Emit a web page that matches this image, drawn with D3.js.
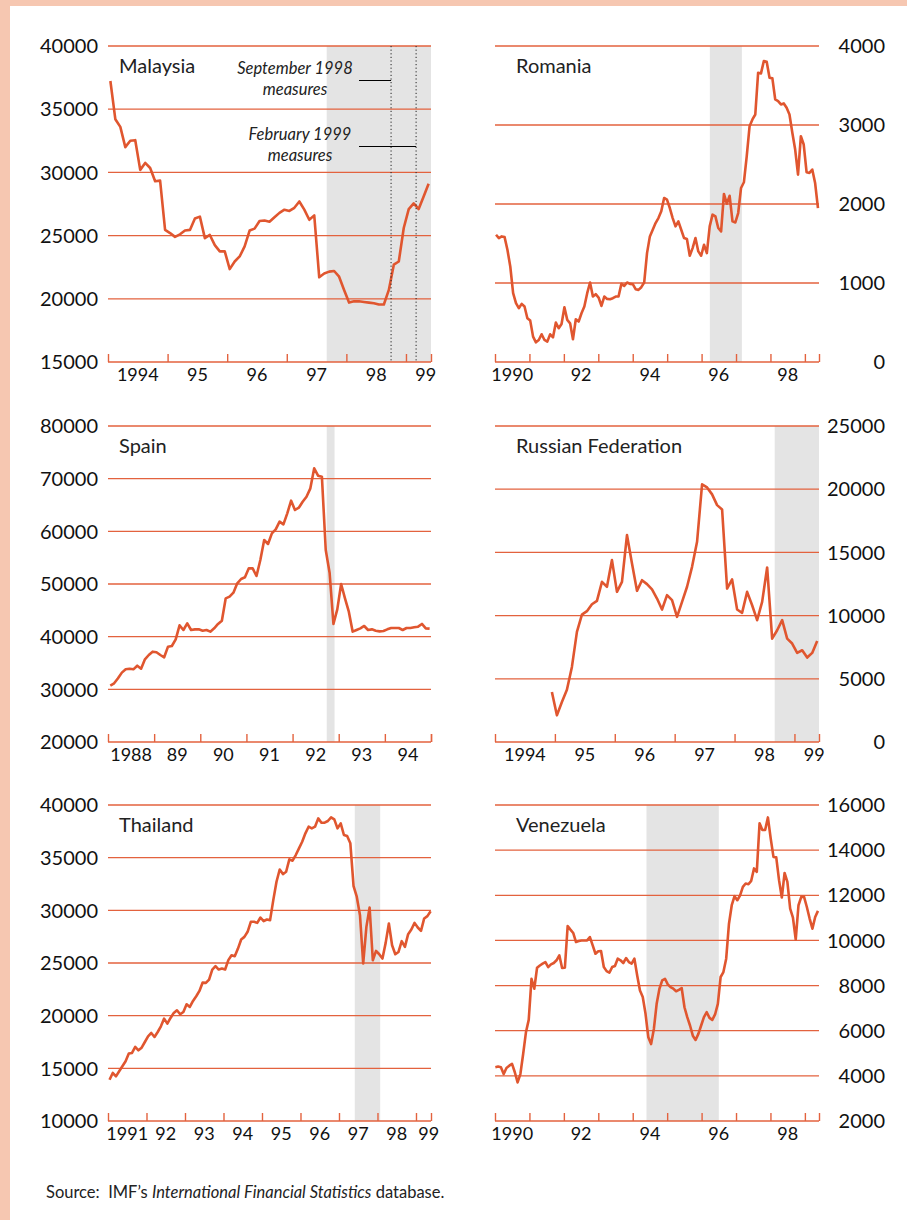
<!DOCTYPE html>
<html>
<head>
<meta charset="utf-8">
<script src="https://cdnjs.cloudflare.com/ajax/libs/d3/7.8.5/d3.min.js"></script>
<style>
  body { margin: 0; background: #fff; }
  svg { display: block; font-family: Lato, "Open Sans", sans-serif; }
</style>
</head>
<body>
<div id="chart"></div>
<script>
'use strict';

// ---- data (monthly series) ----
const malaysiaValues = [37230,34200,33600,32000,32500,32550,30200,30750,30350,29300,29350,25450,25200,24900,25100,25400,25450,26350,26500,24800,25050,24250,23750,23750,22350,22950,23350,24150,25400,25550,26150,26200,26100,26450,26800,27050,26950,27200,27700,27050,26250,26600,21700,22000,22150,22200,21750,20700,19700,19800,19800,19750,19700,19650,19550,19550,20700,22700,22950,25600,27100,27550,27100,28100,29100];
const romaniaValues = [1611,1569,1590,1581,1421,1209,871,744,681,736,702,554,524,321,249,279,351,279,258,351,313,499,427,482,693,533,490,288,541,512,617,702,871,1006,829,858,816,710,829,799,795,808,829,829,989,964,1006,989,985,922,913,947,1006,1378,1590,1674,1759,1822,1907,2076,2055,1949,1822,1717,1780,1674,1569,1556,1345,1442,1569,1400,1345,1484,1378,1717,1865,1844,1696,1653,2127,2004,2104,1780,1767,1886,2203,2275,2605,2985,3070,3133,3662,3653,3810,3801,3598,3590,3323,3302,3260,3273,3218,3133,2901,2689,2372,2858,2753,2402,2393,2436,2266,1949];
const spainValues = [30700,31140,32090,33170,33800,33920,33800,34490,33920,35700,36520,37150,37030,36520,36080,38100,38230,39500,42150,41270,42530,41270,41390,41390,41140,41270,40950,41580,42410,43040,47280,47600,48350,50130,50950,51270,52970,52970,51520,54560,58350,57600,59620,60380,61840,61330,63420,65820,64050,64490,65630,66580,68160,71960,70570,70380,56460,52150,42410,45190,50000,47280,44750,40950,41270,41580,42030,41270,41390,41140,41010,41080,41390,41640,41640,41640,41270,41640,41640,41770,41900,42410,41580,41520];
const russiaValues = [3960,2110,3170,4140,5940,8710,10080,10350,10900,11170,12670,12280,14390,11880,12670,16370,14120,11960,12800,12490,12070,11350,10480,11620,11220,9900,11090,12280,13860,15840,20380,20140,19590,18740,18400,12140,12860,10480,10220,11880,10820,9640,11090,13810,8180,8840,9640,8180,7790,7050,7260,6680,7050,8000];
const thailandValues = [13920,14560,14240,14720,15190,15670,16400,16460,17030,16710,16960,17500,18040,18360,17980,18450,18990,19720,19240,19780,20260,20510,20130,20350,21080,20830,21400,21840,22350,23140,23110,23430,24380,24700,24380,24480,24380,25270,25740,25640,26370,27230,27480,27960,28910,28910,28810,29320,28970,29130,29070,30970,32710,33880,33440,33660,34840,34710,35250,35880,36510,37310,37940,37780,37940,38730,38320,38320,38480,38830,38640,37780,38260,37150,37050,36360,32300,31290,29540,24950,28430,30270,25260,26150,25830,25420,26910,28750,26690,25830,26050,27070,26530,27740,28180,28810,28370,28050,29230,29450,29920];
const venezuelaValues = [4380,4410,4380,4080,4350,4450,4530,4160,3710,4080,4970,5930,6480,8300,7860,8790,8890,8970,9040,8820,8940,9000,9120,9340,8780,8790,10640,10480,10330,9930,9970,10000,10000,10000,10150,9780,9410,9520,9530,8820,8640,8570,8820,8870,9190,9120,9000,9220,9040,8970,9190,8450,7780,7490,6750,5710,5410,6080,7190,7860,8230,8300,8050,7930,7860,7750,7810,7890,7040,6600,6230,5780,5590,5860,6230,6600,6820,6570,6480,6720,7190,8380,8600,9190,10740,11560,11960,11780,12000,12370,12520,12490,12640,13190,13040,15190,14890,14890,15450,14520,13700,13680,12670,11900,12990,12590,11410,11010,10040,11560,11930,11930,11480,10970,10520,11040,11310];

// first / last observation, in decimal years
const malaysiaSpan = [1994.04, 1999.38];
const romaniaSpan = [1990.03, 1999.38];
const spainSpan = [1988.05, 1994.97];
const russiaSpan = [1994.95, 1999.38];
const thailandSpan = [1991.04, 1999.38];
const venezuelaSpan = [1990.01, 1999.38];

// x domains (decimal years) and shaded periods
const malaysiaDomain = [1994, 1999.42];
const romaniaDomain = [1990, 1999.41];
const spainDomain = [1988, 1995];
const russiaDomain = [1994, 1999.41];
const thailandDomain = [1991, 1999.39];
const venezuelaDomain = [1990, 1999.41];

const malaysiaShade = [1997.67, 1999.42];
const romaniaShade = [1996.24, 1997.17];
const spainShade = [1992.74, 1992.91];
const russiaShade = [1998.67, 1999.41];
const thailandShade = [1997.41, 1998.07];
const venezuelaShade = [1994.40, 1996.50];

// y ticks
const malaysiaYTicks = [15000, 20000, 25000, 30000, 35000, 40000];
const romaniaYTicks = [0, 1000, 2000, 3000, 4000];
const spainYTicks = [20000, 30000, 40000, 50000, 60000, 70000, 80000];
const russiaYTicks = [0, 5000, 10000, 15000, 20000, 25000];
const thailandYTicks = [10000, 15000, 20000, 25000, 30000, 35000, 40000];
const venezuelaYTicks = [2000, 4000, 6000, 8000, 10000, 12000, 14000, 16000];

// x tick labels: [year position, label]
const malaysiaXLabels = [[1994.5, "1994"], [1995.5, "95"], [1996.5, "96"], [1997.5, "97"], [1998.5, "98"], [1999.33, "99"]];
const romaniaXLabels = [[1990.5, "1990"], [1992.5, "92"], [1994.5, "94"], [1996.5, "96"], [1998.5, "98"]];
const spainXLabels = [[1988.5, "1988"], [1989.5, "89"], [1990.5, "90"], [1991.5, "91"], [1992.5, "92"], [1993.5, "93"], [1994.5, "94"]];
const russiaXLabels = [[1994.5, "1994"], [1995.5, "95"], [1996.5, "96"], [1997.5, "97"], [1998.5, "98"], [1999.33, "99"]];
const thailandXLabels = [[1991.5, "1991"], [1992.5, "92"], [1993.5, "93"], [1994.5, "94"], [1995.5, "95"], [1996.5, "96"], [1997.5, "97"], [1998.5, "98"], [1999.33, "99"]];
const venezuelaXLabels = [[1990.5, "1990"], [1992.5, "92"], [1994.5, "94"], [1996.5, "96"], [1998.5, "98"]];

// Malaysia annotations: capital-control measures
const measureDates = [1998.75, 1999.17];
const measureLabels = ["September 1998", "February 1999"];

const source = "Source:";

// ---- layout ----
const W = 907, H = 1220;
const lineColor = "#e0562f";
const gridColor = "#e3623e";
const shadeColor = "#e4e4e4";
const textColor = "#111";

const cols = [
    {x0: 108, x1: 431, side: "left", labelX: 98, titleX: 119},
    {x0: 495, x1: 819, side: "right", labelX: 885, titleX: 516}
];
const rows = [
    {top: 46, bottom: 362},
    {top: 426, bottom: 742},
    {top: 805, bottom: 1121}
];

const panels = [
    {name: "Malaysia", col: 0, row: 0, values: malaysiaValues, span: malaysiaSpan, domain: malaysiaDomain, shade: malaysiaShade, yTicks: malaysiaYTicks, xLabels: malaysiaXLabels},
    {name: "Romania", col: 1, row: 0, values: romaniaValues, span: romaniaSpan, domain: romaniaDomain, shade: romaniaShade, yTicks: romaniaYTicks, xLabels: romaniaXLabels},
    {name: "Spain", col: 0, row: 1, values: spainValues, span: spainSpan, domain: spainDomain, shade: spainShade, yTicks: spainYTicks, xLabels: spainXLabels},
    {name: "Russian Federation", col: 1, row: 1, values: russiaValues, span: russiaSpan, domain: russiaDomain, shade: russiaShade, yTicks: russiaYTicks, xLabels: russiaXLabels},
    {name: "Thailand", col: 0, row: 2, values: thailandValues, span: thailandSpan, domain: thailandDomain, shade: thailandShade, yTicks: thailandYTicks, xLabels: thailandXLabels},
    {name: "Venezuela", col: 1, row: 2, values: venezuelaValues, span: venezuelaSpan, domain: venezuelaDomain, shade: venezuelaShade, yTicks: venezuelaYTicks, xLabels: venezuelaXLabels}
];

const svg = d3.select("#chart").append("svg")
    .attr("width", W).attr("height", H);

svg.append("rect").attr("width", W).attr("height", H).attr("fill", "#fff");
// peach frame band
svg.append("rect").attr("x", 0).attr("y", 0).attr("width", W).attr("height", 6).attr("fill", "#f6c7b1");
svg.append("rect").attr("x", 0).attr("y", 0).attr("width", 10).attr("height", H).attr("fill", "#f6c7b1");

panels.forEach(function(p) {
    const c = cols[p.col], r = rows[p.row];
    const x = d3.scaleLinear().domain(p.domain).range([c.x0, c.x1]);
    const y = d3.scaleLinear().domain(d3.extent(p.yTicks)).range([r.bottom, r.top]);
    const g = svg.append("g");

    // shaded period
    g.append("rect")
        .attr("x", x(p.shade[0]))
        .attr("y", r.top)
        .attr("width", x(p.shade[1]) - x(p.shade[0]))
        .attr("height", r.bottom - r.top)
        .attr("fill", shadeColor);

    // gridlines (not the bottom one, that is the axis)
    g.selectAll(".grid")
        .data(p.yTicks.slice(1))
        .enter().append("line")
        .attr("x1", c.x0).attr("x2", c.x1)
        .attr("y1", d => y(d)).attr("y2", d => y(d))
        .attr("stroke", gridColor).attr("stroke-width", 1.3);

    // y labels
    g.selectAll(".ylab")
        .data(p.yTicks)
        .enter().append("text")
        .attr("x", c.labelX)
        .attr("y", d => y(d))
        .attr("dy", "0.36em")
        .attr("text-anchor", "end")
        .attr("font-size", 20)
        .attr("fill", textColor)
        .text(d => d);

    // x axis: baseline with upward ticks at each year and at the end
    const years = d3.range(Math.ceil(p.domain[0]), Math.floor(p.domain[1]) + 1);
    const tickPos = years.concat([p.domain[1]]);
    const axis = d3.axisTop(x).tickValues(tickPos).tickSize(8).tickFormat("");
    const ax = g.append("g")
        .attr("transform", "translate(0," + r.bottom + ")")
        .call(axis);
    ax.select(".domain").attr("stroke", gridColor).attr("stroke-width", 1.6).attr("d", "M" + c.x0 + ",0H" + c.x1);
    ax.selectAll(".tick line").attr("stroke", gridColor).attr("stroke-width", 1.4);

    g.selectAll(".xlab")
        .data(p.xLabels)
        .enter().append("text")
        .attr("x", d => x(d[0]))
        .attr("y", r.bottom + 19)
        .attr("text-anchor", "middle")
        .attr("font-size", 18)
        .attr("fill", textColor)
        .text(d => d[1]);

    // the series
    const step = (p.span[1] - p.span[0]) / (p.values.length - 1);
    const pts = p.values.map((v, i) => [p.span[0] + i * step, v]);
    g.append("path")
        .datum(pts)
        .attr("fill", "none")
        .attr("stroke", lineColor)
        .attr("stroke-width", 2.6)
        .attr("stroke-linejoin", "round")
        .attr("d", d3.line().x(d => x(d[0])).y(d => y(d[1])));

    // title
    g.append("text")
        .attr("x", c.titleX)
        .attr("y", r.top + 27)
        .attr("font-size", 20)
        .attr("fill", "#222")
        .text(p.name);

    if (p.name == "Malaysia") {
        const lx = [295, 300];
        const ly = [74, 140];
        measureDates.forEach(function(d, i) {
            g.append("line")
                .attr("x1", x(d)).attr("x2", x(d))
                .attr("y1", r.top).attr("y2", r.bottom)
                .attr("stroke", "#222").attr("stroke-width", 1)
                .attr("stroke-dasharray", "1.2,2.4");
            g.append("line")
                .attr("x1", 359).attr("x2", x(d))
                .attr("y1", ly[i] + 6.5).attr("y2", ly[i] + 6.5)
                .attr("stroke", "#000").attr("stroke-width", 1.2);
            const t = g.append("text")
                .attr("text-anchor", "middle")
                .attr("font-size", 16.5)
                .attr("font-style", "italic")
                .attr("fill", "#222");
            t.append("tspan").attr("x", lx[i]).attr("y", ly[i]).text(measureLabels[i]);
            t.append("tspan").attr("x", lx[i]).attr("y", ly[i] + 21).text("measures");
        });
    }
});

// source note
const src = svg.append("text")
    .attr("x", 46).attr("y", 1198)
    .attr("font-size", 16.5)
    .attr("fill", "#222");
src.append("tspan").text(source + "\u00a0\u00a0IMF\u2019s ");
src.append("tspan").attr("font-style", "italic").text("International Financial Statistics");
src.append("tspan").text(" database.");
</script>
</body>
</html>
